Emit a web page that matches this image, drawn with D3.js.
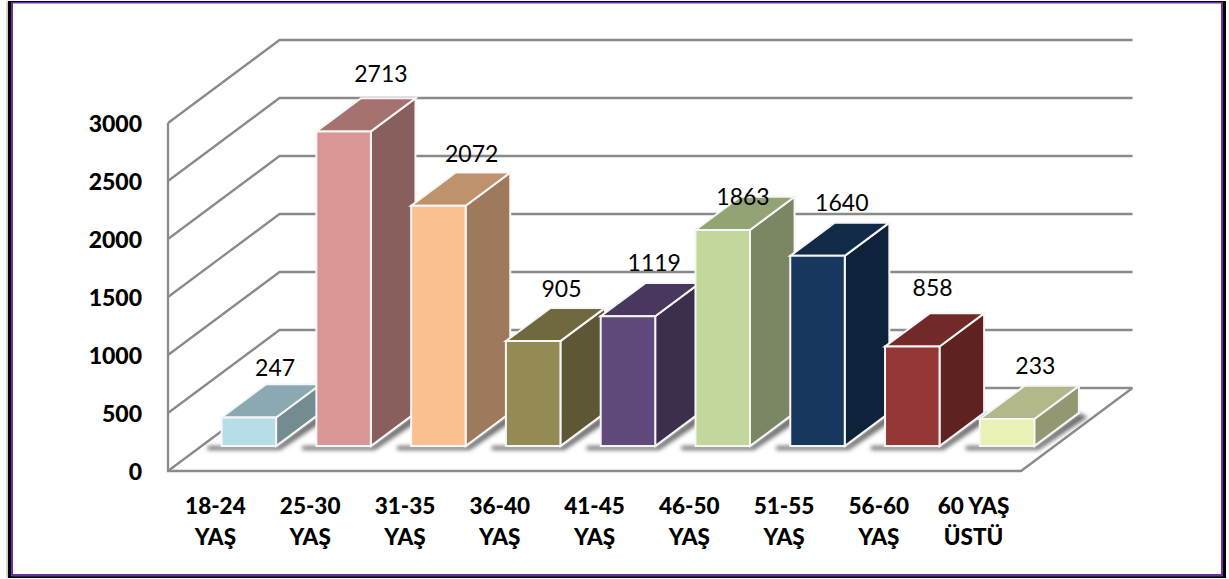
<!DOCTYPE html>
<html><head><meta charset="utf-8">
<script src="https://cdn.jsdelivr.net/npm/d3@7/dist/d3.min.js"></script>
<style>
html,body{margin:0;padding:0;background:#fff}
svg{display:block}
text{font-family:Lato,"Open Sans",sans-serif;fill:#000}
</style></head><body>
<script>
const categories = [["18-24","YAŞ"],["25-30","YAŞ"],["31-35","YAŞ"],["36-40","YAŞ"],["41-45","YAŞ"],["46-50","YAŞ"],["51-55","YAŞ"],["56-60","YAŞ"],["60 YAŞ","ÜSTÜ"]];
const values = [247,2713,2072,905,1119,1863,1640,858,233];
const frontColors = ["#B7DEE8","#D99694","#FAC090","#948A54","#604A7B","#C3D69B","#17375E","#953735","#EBF1B5"];
const yTicks = [0,500,1000,1500,2000,2500,3000];
const labelDx = [4,15,11,6,4,-2,2,-2,6];
const labelDy = [-17,-25,-20,-20,-21,-1,-21,-26,-21];

const W=1229,H=579;
const svg=d3.select("body").append("svg").attr("width",W).attr("height",H);
const defs=svg.append("defs");
defs.append("filter").attr("id","blur").attr("x","-30%").attr("y","-30%").attr("width","160%").attr("height","160%")
  .append("feGaussianBlur").attr("stdDeviation",2);
defs.append("filter").attr("id","soft").attr("x","-5%").attr("y","-5%").attr("width","110%").attr("height","110%")
  .append("feGaussianBlur").attr("stdDeviation",0.35);
defs.append("filter").attr("id","edge").attr("x","-2%").attr("y","-2%").attr("width","104%").attr("height","104%")
  .append("feGaussianBlur").attr("stdDeviation",0.9);

// frame
svg.append("rect").attr("x",7).attr("y",1).attr("width",1).attr("height",577).attr("fill","#666").attr("filter","url(#edge)");
svg.append("rect").attr("x",8).attr("y",1).attr("width",1218).attr("height",577).attr("fill","#000");
svg.append("rect").attr("x",11).attr("y",2).attr("width",1212).attr("height",574.5).attr("fill","#7030A0");
svg.append("rect").attr("x",13).attr("y",3.5).attr("width",1208).attr("height",570.5).attr("fill","#fff");

// scales
const x=d3.scaleBand().domain(d3.range(categories.length)).range([168,1021]).paddingInner(.425).paddingOuter(.2125);
const y=d3.scaleLinear().domain([0,3000]).range([471,123]);
const depthX=d3.scaleLinear().domain([0,1]).range([0,111.5]);
const depthY=d3.scaleLinear().domain([0,1]).range([0,-83]);
const barDepth=[.3,.7];
const P=(px,v,d)=>[px+depthX(d),y(v)+depthY(d)];
const poly=a=>a.map(p=>p.join(",")).join(" ");
const line=d3.line();

// walls and floor
const grid=svg.append("g").attr("fill","none").attr("stroke","#8a8a8a").attr("stroke-width",2.3).attr("filter","url(#soft)");
grid.selectAll("path.g").data(yTicks).join("path").attr("class","g")
  .attr("d",v=>line([P(168,v,0),P(168,v,1),P(1021,v,1)]));
grid.append("path").attr("d",line([P(168,3000,0),P(168,0,0),P(1021,0,0),P(1021,0,1)]));

// floor shadow
const sh=svg.append("g").attr("filter","url(#blur)").attr("fill","#6e6e6e");
sh.selectAll("polygon").data(values).join("polygon").attr("points",(v,i)=>{
  const l=x(i), r=l+x.bandwidth();
  const a=P(l-14,0,barDepth[0]), b=P(r+1,0,barDepth[0]), c=P(r,0,barDepth[1]);
  return poly([[a[0],a[1]+4],[b[0]+3,b[1]+4],[c[0]+9,c[1]+4],[c[0],c[1]],[b[0],b[1]],[a[0],a[1]]]);
});

// bars
const bars=svg.append("g").attr("stroke","#f6f6f6").attr("stroke-width",2).attr("stroke-linejoin","miter")
  .selectAll("g").data(values).join("g");
const shade=(c,k)=>{const o=d3.rgb(c);return d3.rgb(o.r*k,o.g*k,o.b*k).formatHex();};
bars.append("polygon").attr("fill",(v,i)=>shade(frontColors[i],.63)).attr("points",(v,i)=>{
  const r=x(i)+x.bandwidth();
  return poly([P(r,0,barDepth[0]),P(r,0,barDepth[1]),P(r,v,barDepth[1]),P(r,v,barDepth[0])]);
});
bars.append("polygon").attr("fill",(v,i)=>shade(frontColors[i],.76)).attr("points",(v,i)=>{
  const l=x(i),r=l+x.bandwidth();
  return poly([P(l,v,barDepth[0]),P(r,v,barDepth[0]),P(r,v,barDepth[1]),P(l,v,barDepth[1])]);
});
bars.append("polygon").attr("fill",(v,i)=>frontColors[i]).attr("points",(v,i)=>{
  const l=x(i),r=l+x.bandwidth();
  return poly([P(l,0,barDepth[0]),P(r,0,barDepth[0]),P(r,v,barDepth[0]),P(l,v,barDepth[0])]);
});

// value labels
svg.append("g").selectAll("text").data(values).join("text")
  .attr("text-anchor","middle").attr("dominant-baseline","central")
  .attr("font-size",23)
  .attr("x",(v,i)=>P(x(i)+x.bandwidth()/2,v,.5)[0]+labelDx[i])
  .attr("y",(v,i)=>P(0,v,barDepth[1])[1]+labelDy[i])
  .text(v=>v);

// y axis labels
const yAxis=svg.append("g").attr("transform","translate(168,0)")
  .call(d3.axisLeft(y).tickValues(yTicks).tickSize(0).tickPadding(26).tickFormat(d3.format("d")));
yAxis.select(".domain").remove();
yAxis.selectAll("text").attr("font-size",23).attr("font-weight",900).style("font-family","Lato").style("fill","#000").attr("dy","0.36em");

// x axis labels
const xAxis=svg.append("g").attr("transform","translate(0,471)")
  .call(d3.axisBottom(x).tickSize(0).tickFormat(""));
xAxis.select(".domain").remove();
xAxis.selectAll(".tick").each(function(i){
  const t=d3.select(this).select("text").text(null).attr("y",0).attr("dy",null)
    .attr("font-size",22.5).attr("font-weight",900).attr("text-anchor","middle").style("font-family","Lato").style("fill","#000");
  categories[i].forEach((s,k)=>t.append("tspan").attr("x",0).attr("y",43+k*31).text(s));
});
</script>
</body></html>
